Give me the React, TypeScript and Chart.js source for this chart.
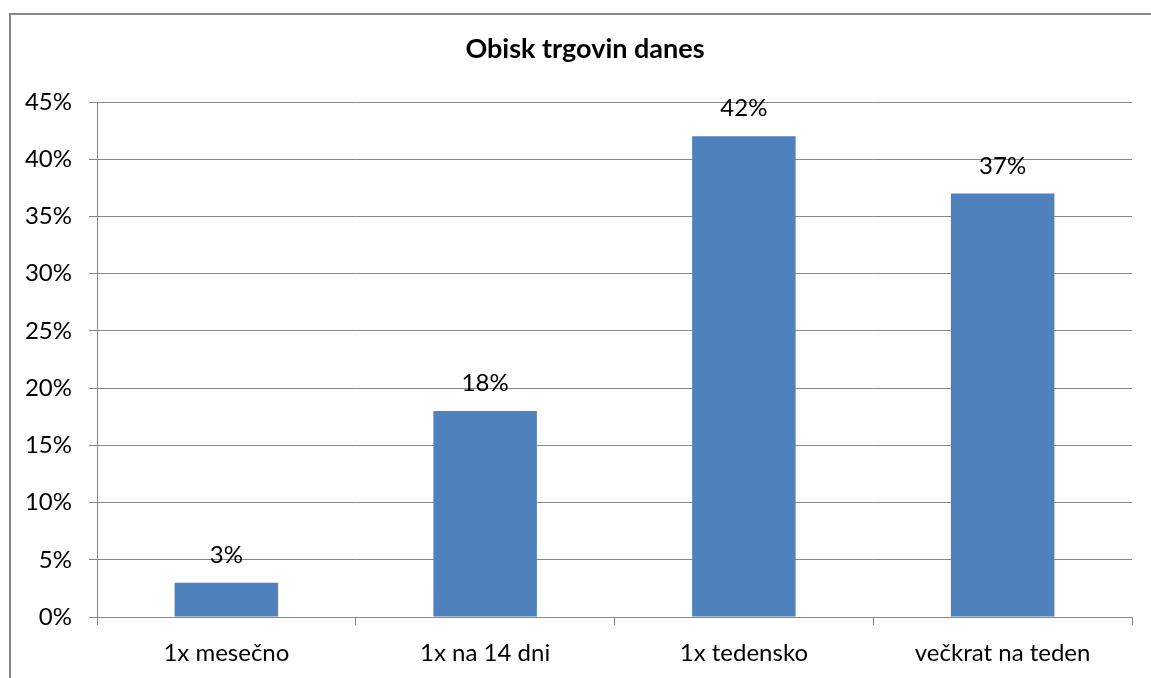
import React, { useEffect, useRef } from "react";
import { Chart, registerables } from "chart.js";

Chart.register(...registerables);

const chartTitle = "Obisk trgovin danes";
const categories = ["1x mesečno", "1x na 14 dni", "1x tedensko", "večkrat na teden"];
const shares = [3, 18, 42, 37];
const yMax = 45;
const yStep = 5;

const FONT = "Lato, 'Open Sans', sans-serif";

export default function App() {
  const ref = useRef<HTMLCanvasElement | null>(null);

  useEffect(() => {
    if (!ref.current) return;

    const framePlugin = {
      id: "frame",
      beforeDraw(chart: any) {
        const ctx = chart.ctx;
        ctx.save();
        ctx.fillStyle = "#ffffff";
        ctx.fillRect(0, 0, chart.width, chart.height);
        ctx.strokeStyle = "#878787";
        ctx.lineWidth = 2;
        ctx.beginPath();
        ctx.moveTo(10, chart.height + 5);
        ctx.lineTo(10, 14);
        ctx.lineTo(chart.width + 5, 14);
        ctx.stroke();
        // title
        ctx.fillStyle = "#000000";
        ctx.font = `bold 27px ${FONT}`;
        ctx.textAlign = "center";
        ctx.textBaseline = "alphabetic";
        ctx.fillText(chartTitle, 585, 58);
        ctx.restore();
      },
      afterDatasetsDraw(chart: any) {
        const ctx = chart.ctx;
        const meta = chart.getDatasetMeta(0);
        ctx.save();
        ctx.fillStyle = "#000000";
        ctx.font = `24px ${FONT}`;
        ctx.textAlign = "center";
        ctx.textBaseline = "alphabetic";
        meta.data.forEach((bar: any, i: number) => {
          ctx.fillText(`${shares[i]}%`, bar.x, bar.y - 20);
        });
        ctx.restore();
      },
    };

    const chart = new Chart(ref.current, {
      type: "bar",
      data: {
        labels: categories,
        datasets: [
          {
            data: shares,
            backgroundColor: "#4F81BD",
            borderWidth: 0,
            categoryPercentage: 1,
            barPercentage: 0.4,
          },
        ],
      },
      options: {
        animation: false,
        responsive: false,
        devicePixelRatio: 1,
        layout: { padding: { left: 0, top: 102, right: 19, bottom: 0 } },
        plugins: {
          legend: { display: false },
          title: { display: false },
          tooltip: { enabled: false },
        },
        scales: {
          x: {
            offset: true,
            afterFit(scale: any) {
              scale.height = 61;
            },
            grid: {
              offset: true,
              drawOnChartArea: false,
              drawTicks: true,
              tickLength: 8,
              color: "#878787",
              lineWidth: 1,
            },
            border: { display: true, color: "#878787", width: 1 },
            ticks: {
              color: "#000000",
              font: { family: FONT, size: 24 },
              padding: 14,
              maxRotation: 0,
            },
          },
          y: {
            min: 0,
            max: yMax,
            afterFit(scale: any) {
              scale.width = 97;
            },
            grid: {
              color: "#878787",
              lineWidth: 1,
              drawTicks: true,
              tickLength: 8,
            },
            border: { display: true, color: "#878787", width: 1 },
            ticks: {
              stepSize: yStep,
              color: "#000000",
              font: { family: FONT, size: 24 },
              padding: 17,
              callback: (v: any) => `${v}%`,
            },
          },
        },
      },
      plugins: [framePlugin],
    });

    return () => chart.destroy();
  }, []);

  return (
    <div style={{ position: "absolute", left: 0, top: 0, width: 1151, height: 678 }}>
      <canvas ref={ref} width={1151} height={678} style={{ display: "block" }} />
    </div>
  );
}
